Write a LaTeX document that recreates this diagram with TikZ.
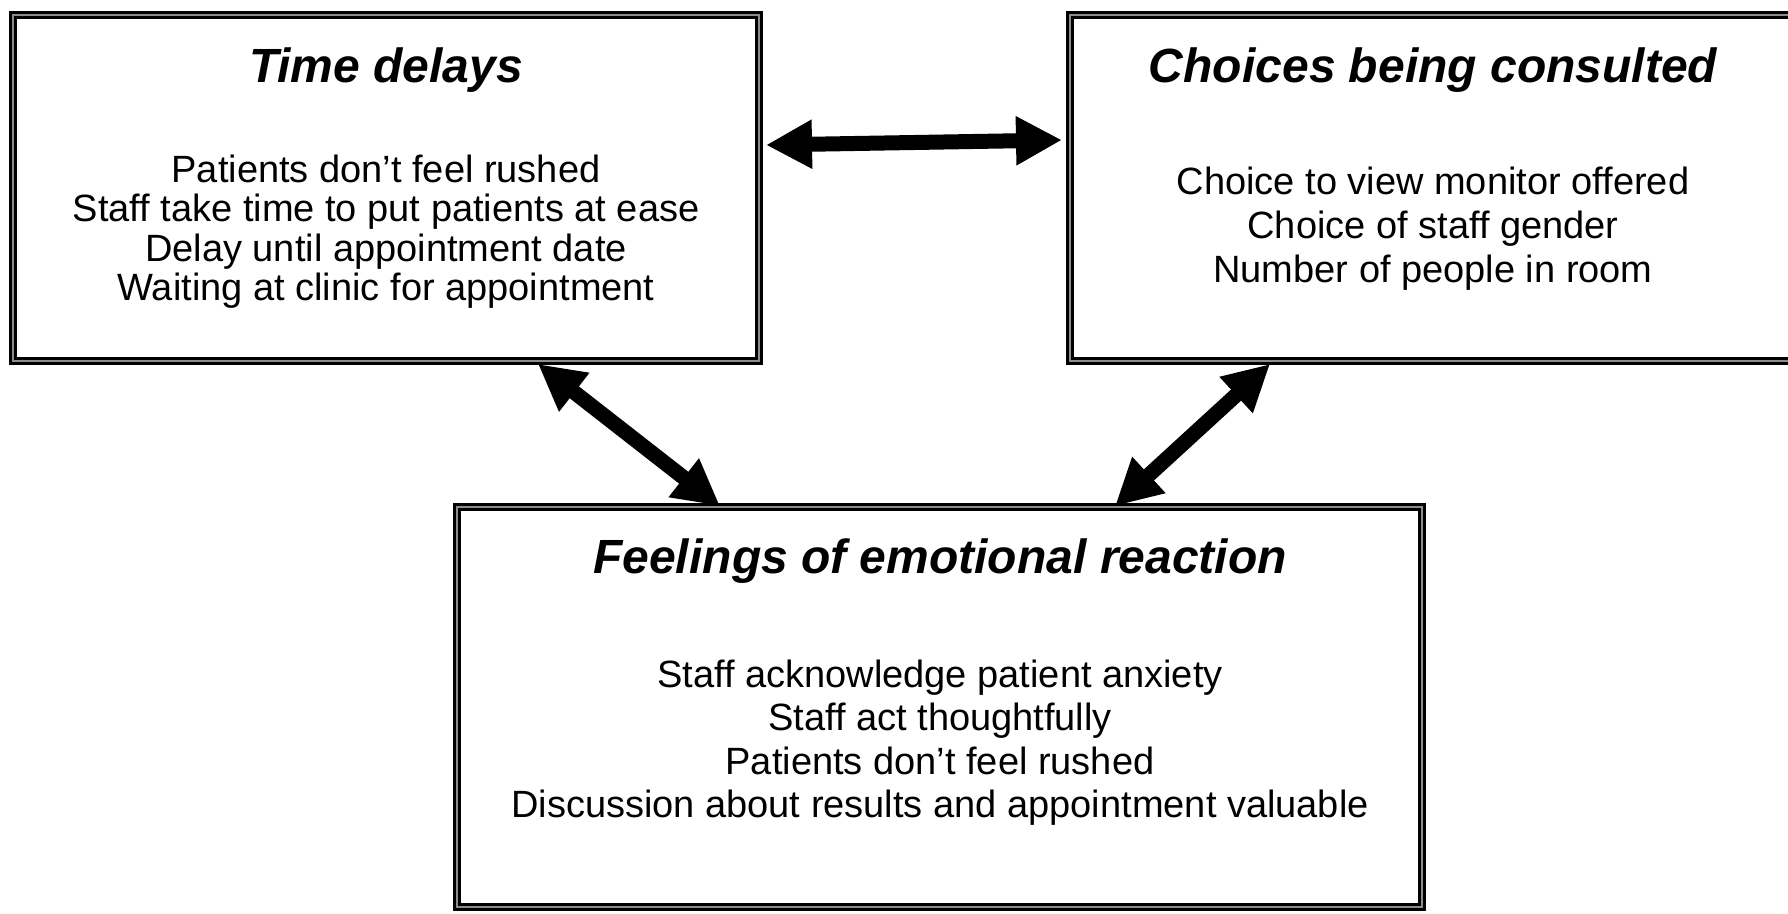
\documentclass[tikz,border=0pt]{standalone}
\usepackage{fontspec}
\setmainfont{Liberation Sans}
\usetikzlibrary{arrows.meta,calc}
\begin{document}
\begin{tikzpicture}[x=1pt,y=-1pt,
  box/.style={draw=black, line width=3pt, double=black!45, double distance=2pt,
    rectangle, inner sep=0pt, outer sep=0pt, anchor=north west},
  ttl/.style={font=\fontsize{48}{50}\selectfont\bfseries\itshape, anchor=base, inner sep=0pt},
  bodytext/.style={font=\fontsize{38}{40}\selectfont, anchor=base, inner sep=0pt},
  bigarrow/.style={line width=15pt, {Triangle[length=46pt,width=46pt]}-{Triangle[length=46pt,width=46pt]}}
]
\useasboundingbox (0,0) rectangle (1788,913);
\fill[white] (0,0) rectangle (1788,913);
\begin{scope}
\clip (0,0) rectangle (1788,913);
% boxes
\node[box, minimum width=746pt, minimum height=346pt] (lbox) at (13,15) {};
\node[box, minimum width=726pt, minimum height=346pt] (rbox) at (1070,15) {};
\node[box, minimum width=965pt, minimum height=400pt] (bbox) at (457,507) {};
% left box text
\node[ttl] (lt) at (386,82) {Time delays};
\node[bodytext] (l1) at (386,182) {Patients don’t feel rushed};
\node[bodytext] (l2) at (386,221.5) {Staff take time to put patients at ease};
\node[bodytext] (l3) at (386,261) {Delay until appointment date};
\node[bodytext] (l4) at (386,300.5) {Waiting at clinic for appointment};
% right box text
\node[ttl] (rt) at (1433,82) {Choices being consulted};
\node[bodytext] (r1) at (1433,194) {Choice to view monitor offered};
\node[bodytext] (r2) at (1433,238) {Choice of staff gender};
\node[bodytext] (r3) at (1433,282) {Number of people in room};
% bottom box text
\node[ttl] (bt) at (940,573) {Feelings of emotional reaction};
\node[bodytext] (b1) at (940,687) {Staff acknowledge patient anxiety};
\node[bodytext] (b2) at (940,730.5) {Staff act thoughtfully};
\node[bodytext] (b3) at (940,774) {Patients don’t feel rushed};
\node[bodytext] (b4) at (940,817.5) {Discussion about results and appointment valuable};
% arrows
\draw[bigarrow] ($(lbox.north east)+(7,130)$) -- ($(rbox.north west)+(-8,125)$);
\draw[bigarrow] ($(lbox.south west)+(525,3)$) -- ($(bbox.north west)+(263,-1)$);
\draw[bigarrow] ($(rbox.south west)+(200,3)$) -- ($(bbox.north west)+(658,-1)$);
\end{scope}
\end{tikzpicture}
\end{document}
